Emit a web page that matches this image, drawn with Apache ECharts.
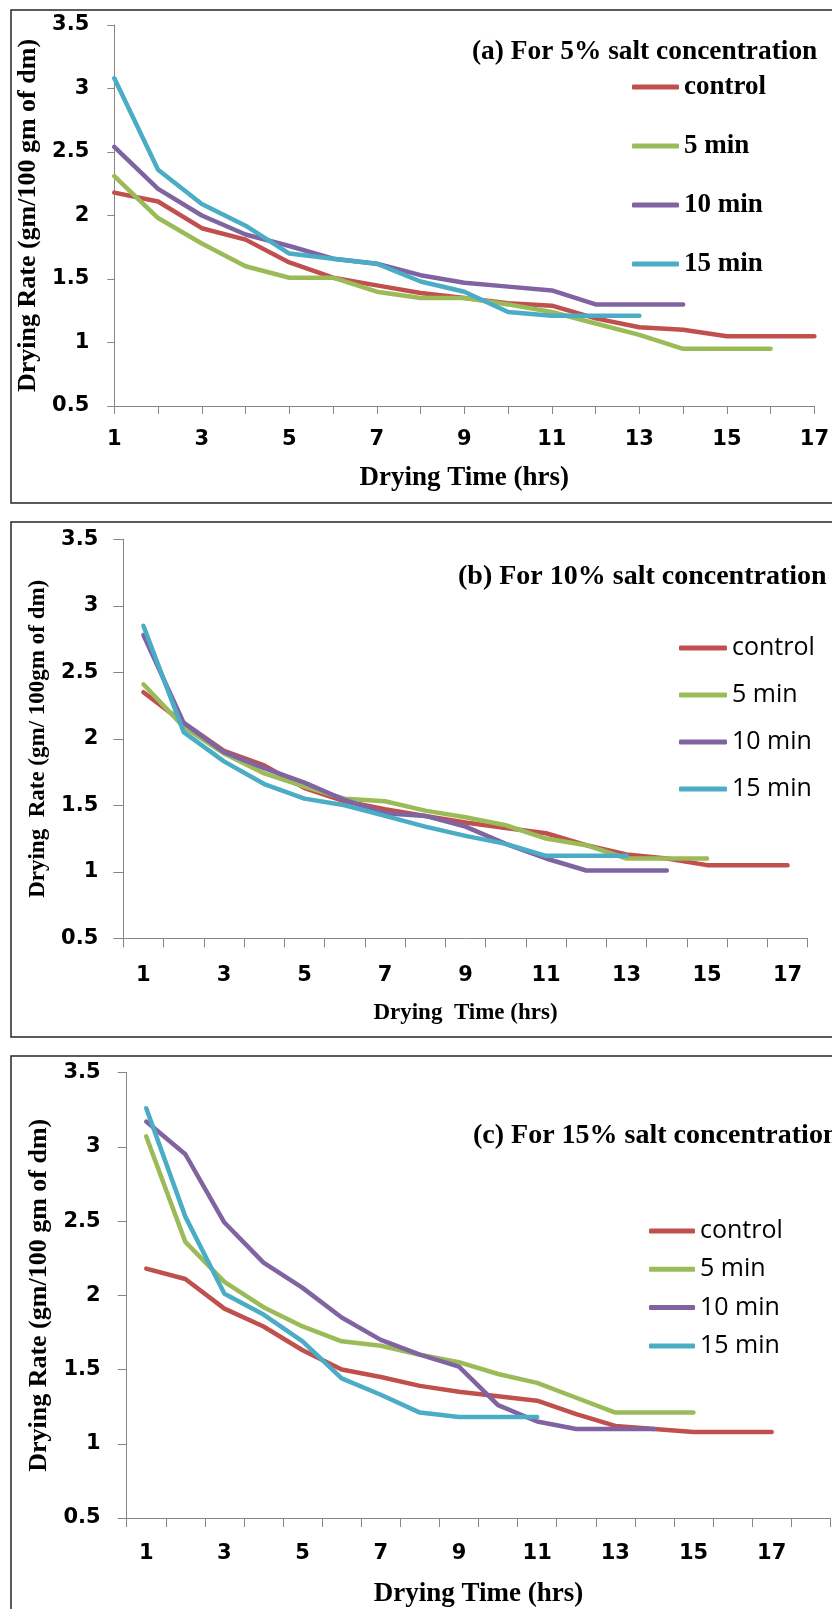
<!DOCTYPE html>
<html>
<head>
<meta charset="utf-8">
<script src="https://cdn.jsdelivr.net/npm/echarts@6/dist/echarts.min.js"></script>
<style>
  html, body { margin: 0; padding: 0; background: #fff; }
  #chart { width: 832px; height: 1609px; }
</style>
</head>
<body>
<div id="chart"></div>
<script>
// Drying time (hrs)
const hours = [1, 2, 3, 4, 5, 6, 7, 8, 9, 10, 11, 12, 13, 14, 15, 16, 17];
const hoursC = [1, 2, 3, 4, 5, 6, 7, 8, 9, 10, 11, 12, 13, 14, 15, 16, 17, 18];
const seriesNames = ['control', '5 min', '10 min', '15 min'];
const seriesColors = ['#C0504D', '#9BBB59', '#8064A2', '#4BACC6'];
const rateTicks = [0.5, 1, 1.5, 2, 2.5, 3, 3.5];

// (a) 5% salt concentration
const controlA = [2.18, 2.11, 1.90, 1.81, 1.63, 1.51, 1.45, 1.39, 1.35, 1.31, 1.29, 1.19, 1.12, 1.10, 1.05, 1.05, 1.05];
const min5A    = [2.31, 1.98, 1.78, 1.60, 1.51, 1.51, 1.40, 1.35, 1.35, 1.30, 1.24, 1.15, 1.06, 0.95, 0.95, 0.95];
const min10A   = [2.54, 2.21, 2.00, 1.85, 1.76, 1.66, 1.62, 1.53, 1.47, 1.44, 1.41, 1.30, 1.30, 1.30];
const min15A   = [3.08, 2.36, 2.09, 1.92, 1.70, 1.66, 1.62, 1.48, 1.40, 1.24, 1.21, 1.21, 1.21];

// (b) 10% salt concentration
const controlB = [2.35, 2.12, 1.91, 1.80, 1.63, 1.53, 1.47, 1.42, 1.37, 1.33, 1.29, 1.20, 1.13, 1.10, 1.05, 1.05, 1.05];
const min5B    = [2.41, 2.09, 1.89, 1.74, 1.64, 1.55, 1.53, 1.46, 1.41, 1.35, 1.25, 1.20, 1.10, 1.10, 1.10];
const min10B   = [2.78, 2.12, 1.90, 1.78, 1.67, 1.54, 1.44, 1.42, 1.34, 1.21, 1.10, 1.01, 1.01, 1.01];
const min15B   = [2.85, 2.05, 1.83, 1.66, 1.55, 1.50, 1.42, 1.34, 1.27, 1.21, 1.12, 1.12, 1.12];

// (c) 15% salt concentration
const controlC = [2.18, 2.11, 1.91, 1.79, 1.63, 1.50, 1.45, 1.39, 1.35, 1.32, 1.29, 1.20, 1.12, 1.10, 1.08, 1.08, 1.08];
const min5C    = [3.07, 2.36, 2.09, 1.92, 1.79, 1.69, 1.66, 1.60, 1.55, 1.47, 1.41, 1.31, 1.21, 1.21, 1.21];
const min10C   = [3.17, 2.95, 2.49, 2.22, 2.05, 1.85, 1.70, 1.60, 1.52, 1.26, 1.15, 1.10, 1.10, 1.10];
const min15C   = [3.26, 2.53, 2.01, 1.87, 1.69, 1.44, 1.33, 1.21, 1.18, 1.18, 1.18];

const panelsA = [controlA, min5A, min10A, min15A];
const panelsB = [controlB, min5B, min10B, min15B];
const panelsC = [controlC, min5C, min10C, min15C];

const SERIF = '"Liberation Serif", "Times New Roman", serif';
const TICKFONT = '"DejaVu Sans", sans-serif';
const SANS = '"Open Sans", Calibri, sans-serif';
const AXIS_GRAY = '#868686';
const TICK_SIZE = 21;
const LINE_W = 4.5;

function yAxisFor(gridIndex, name, nameGap, nameSize, tickLen, margin) {
  return {
    gridIndex, type: 'value', min: rateTicks[0], max: rateTicks[rateTicks.length - 1], interval: 0.5,
    axisLine: { show: true, lineStyle: { color: AXIS_GRAY, width: 1 } },
    axisTick: { show: true, length: tickLen, lineStyle: { color: AXIS_GRAY } },
    splitLine: { show: false },
    axisLabel: { margin, fontFamily: TICKFONT, fontWeight: 'bold', fontSize: TICK_SIZE, color: '#000' },
    name, nameLocation: 'middle', nameRotate: 90, nameGap,
    nameTextStyle: { fontFamily: SERIF, fontWeight: 'bold', fontSize: nameSize, color: '#000' }
  };
}

function catAxisFor(gridIndex, cats, nameGap, nameSize, name, margin) {
  return {
    gridIndex, type: 'category', data: cats.map(String), boundaryGap: true,
    axisLine: { show: true, lineStyle: { color: AXIS_GRAY, width: 1 } },
    axisTick: { show: true, interval: 0, length: 9, lineStyle: { color: AXIS_GRAY } },
    splitLine: { show: false },
    axisLabel: { interval: 1, margin, fontFamily: TICKFONT, fontWeight: 'bold', fontSize: TICK_SIZE, color: '#000' },
    name, nameLocation: 'middle', nameGap,
    nameTextStyle: { fontFamily: SERIF, fontWeight: 'bold', fontSize: nameSize, color: '#000' }
  };
}

function lineSeries(name, color, data, xi, yi) {
  return {
    type: 'line', name, data, xAxisIndex: xi, yAxisIndex: yi,
    symbol: 'none', smooth: false,
    lineStyle: { color, width: LINE_W, cap: 'round', join: 'round' },
    itemStyle: { color }
  };
}

const series = [];
panelsA.forEach((vals, k) => {
  series.push(lineSeries(seriesNames[k], seriesColors[k], vals.map((v, i) => [hours[i], v]), 0, 0));
});
panelsB.forEach((vals, k) => {
  series.push(lineSeries(seriesNames[k], seriesColors[k], vals, 1, 1));
});
panelsC.forEach((vals, k) => {
  series.push(lineSeries(seriesNames[k], seriesColors[k], vals, 2, 2));
});

function legendFor(left, top, gap, textGap, font, size, width) {
  return {
    data: seriesNames.map(n => ({ name: n, icon: 'roundRect' })),
    orient: 'vertical', left, top, padding: 0,
    itemWidth: width, itemHeight: 5, itemGap: gap, itemTextGap: textGap,
    selectedMode: false,
    textStyle: { fontFamily: font.family, fontWeight: font.weight, fontSize: size, color: '#000', lineHeight: 30 }
  };
}

function frame(y, h) {
  return { type: 'rect', shape: { x: 11, y, width: 840, height: h }, style: { fill: null, stroke: '#262626', lineWidth: 1.5 }, z: 0, silent: true };
}

function heading(text, x, y, size) {
  return {
    type: 'text', x, y, z: 10,
    style: { text, fill: '#000', font: 'bold ' + size + 'px ' + SERIF, textAlign: 'left', textVerticalAlign: 'middle', verticalAlign: 'middle' }
  };
}

const option = {
  animation: false,
  backgroundColor: '#fff',
  grid: [
    { left: 114.3, top: 25, width: 707.3, height: 381 },
    { left: 123.3, top: 539.3, width: 684.4, height: 399 },
    { left: 126.7, top: 1072.6, width: 703.6, height: 448 }
  ],
  xAxis: [
    {
      gridIndex: 0, type: 'value', min: hours[0], max: hours[hours.length - 1], interval: 1,
      axisLine: { show: true, lineStyle: { color: AXIS_GRAY, width: 1 } },
      axisTick: { show: true, length: 8, lineStyle: { color: AXIS_GRAY } },
      splitLine: { show: false },
      axisLabel: { margin: 23, fontFamily: TICKFONT, fontWeight: 'bold', fontSize: TICK_SIZE, color: '#000',
        formatter: v => (v % 2 === 1 ? String(v) : '') },
      name: 'Drying Time (hrs)', nameLocation: 'middle', nameGap: 59,
      nameTextStyle: { fontFamily: SERIF, fontWeight: 'bold', fontSize: 27, color: '#000' }
    },
    catAxisFor(1, hours, 63, 23, 'Drying  Time (hrs)', 27),
    catAxisFor(2, hoursC, 63, 27, 'Drying Time (hrs)', 25)
  ],
  yAxis: [
    yAxisFor(0, 'Drying Rate (gm/100 gm of dm)', 65, 26, 7, 25),
    yAxisFor(1, 'Drying  Rate (gm/ 100gm of dm)', 74, 23, 10, 25),
    yAxisFor(2, 'Drying Rate (gm/100 gm of dm)', 68, 26, 9, 26)
  ],
  legend: [
    legendFor(632, 72, 29, 5, { family: SERIF, weight: 'bold' }, 27, 47),
    legendFor(679, 633, 17, 5, { family: SANS, weight: 'normal' }, 25, 48),
    legendFor(649, 1216, 8.3, 4, { family: SANS, weight: 'normal' }, 25, 46)
  ],
  graphic: [
    frame(10, 493),
    frame(522, 515),
    frame(1056, 600),
    heading('(a) For 5% salt concentration', 472, 52, 27.4),
    heading('(b) For 10% salt concentration', 458, 577, 28),
    heading('(c) For 15% salt concentration', 473, 1136, 28)
  ],
  series
};

const chart = echarts.init(document.getElementById('chart'), null, { renderer: 'canvas' });
chart.setOption(option);
</script>
</body>
</html>
